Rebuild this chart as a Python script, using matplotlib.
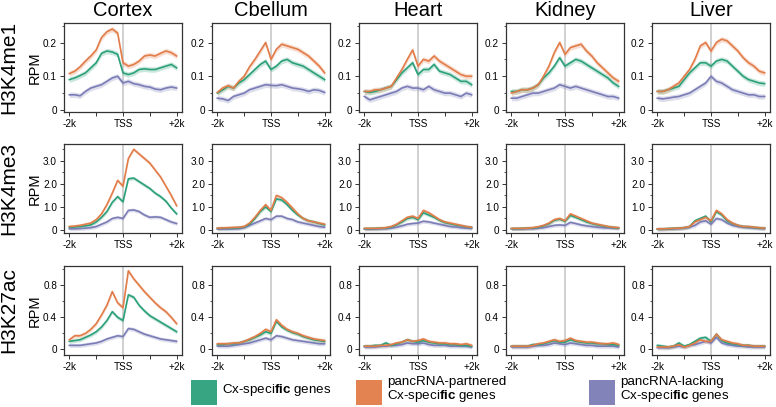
import numpy as np
import matplotlib
matplotlib.use("Agg")
import matplotlib.pyplot as plt
from matplotlib.patches import Rectangle
from matplotlib.ticker import MultipleLocator

plt.rcParams['font.family'] = ['Liberation Sans', 'DejaVu Sans']
plt.rcParams['mathtext.fontset'] = 'custom'
plt.rcParams['mathtext.rm'] = 'Liberation Sans'
plt.rcParams['mathtext.bf'] = 'Liberation Sans:bold'

# positions relative to TSS (bp)
pos = [-2000, -1800, -1600, -1400, -1200, -1000, -800, -600, -400, -200, 0,
       200, 400, 600, 800, 1000, 1200, 1400, 1600, 1800, 2000]

tissues = ['Cortex', 'Cbellum', 'Heart', 'Kidney', 'Liver']
marks = ['H3K4me1', 'H3K4me3', 'H3K27ac']

# --- H3K4me1 (g = Cx-specific, o = pancRNA-partnered, p = pancRNA-lacking)
me1_ctx_g = [.09, .095, .102, .11, .125, .14, .168, .175, .172, .165, .11, .105, .11, .12, .122, .12, .12, .125, .13, .135, .125]
me1_ctx_o = [.108, .115, .128, .145, .16, .178, .215, .232, .24, .228, .14, .13, .135, .145, .16, .163, .16, .168, .175, .17, .16]
me1_ctx_p = [.045, .045, .042, .055, .065, .07, .075, .085, .095, .1, .08, .085, .078, .075, .07, .068, .062, .06, .065, .068, .065]
me1_cbl_g = [.05, .06, .07, .065, .08, .09, .105, .12, .135, .145, .12, .13, .145, .15, .14, .135, .13, .12, .11, .1, .09]
me1_cbl_o = [.052, .065, .072, .065, .085, .1, .128, .15, .175, .2, .15, .18, .195, .19, .185, .18, .17, .16, .145, .13, .11]
me1_cbl_p = [.035, .033, .028, .04, .045, .05, .06, .065, .07, .075, .073, .072, .075, .07, .065, .063, .06, .055, .06, .058, .052]
me1_hrt_g = [.055, .052, .055, .06, .065, .07, .09, .11, .125, .14, .105, .12, .12, .135, .115, .11, .105, .095, .085, .085, .075]
me1_hrt_o = [.055, .055, .06, .06, .065, .07, .095, .12, .15, .178, .13, .15, .145, .16, .145, .135, .125, .115, .105, .1, .1]
me1_hrt_p = [.04, .03, .035, .04, .045, .05, .055, .065, .07, .065, .065, .06, .07, .06, .055, .05, .05, .045, .04, .05, .045]
me1_kid_g = [.055, .055, .06, .06, .065, .075, .095, .11, .13, .155, .13, .14, .15, .145, .135, .125, .115, .105, .095, .08, .07]
me1_kid_o = [.05, .055, .06, .06, .065, .075, .1, .13, .17, .2, .165, .185, .19, .195, .175, .16, .14, .125, .11, .095, .085]
me1_kid_p = [.035, .035, .04, .045, .05, .05, .055, .06, .065, .075, .07, .065, .07, .065, .06, .055, .05, .045, .04, .04, .035]
me1_liv_g = [.055, .055, .06, .065, .07, .09, .11, .125, .14, .14, .13, .145, .15, .145, .13, .115, .1, .09, .085, .08, .078]
me1_liv_o = [.055, .055, .06, .07, .08, .1, .12, .15, .19, .2, .175, .2, .21, .205, .19, .175, .155, .14, .13, .115, .11]
me1_liv_p = [.035, .033, .035, .038, .04, .045, .05, .06, .07, .08, .1, .085, .08, .07, .06, .055, .05, .045, .045, .04, .04]

# --- H3K4me3
me3_ctx_g = [.12, .13, .15, .18, .22, .35, .55, .8, 1.2, 1.45, 1.22, 2.22, 2.25, 2.1, 1.95, 1.8, 1.6, 1.45, 1.25, .95, .7]
me3_ctx_o = [.15, .17, .2, .25, .3, .45, .7, 1.1, 1.6, 2.15, 1.9, 3.1, 3.5, 3.3, 3.1, 2.9, 2.6, 2.3, 1.9, 1.5, 1.05]
me3_ctx_p = [.05, .05, .06, .08, .1, .15, .25, .35, .5, .55, .5, .85, .87, .8, .65, .55, .57, .55, .45, .35, .28]
me3_cbl_g = [.07, .08, .08, .09, .1, .14, .25, .5, .8, 1.0, .8, 1.35, 1.3, 1.1, .85, .65, .5, .4, .35, .28, .22]
me3_cbl_o = [.08, .09, .1, .11, .12, .15, .3, .55, .85, 1.1, .85, 1.5, 1.4, 1.2, .95, .7, .5, .4, .35, .3, .25]
me3_cbl_p = [.04, .04, .04, .05, .06, .1, .2, .3, .4, .5, .45, .6, .6, .5, .45, .35, .3, .25, .2, .15, .12]
me3_hrt_g = [.06, .06, .07, .08, .09, .13, .22, .35, .5, .55, .45, .75, .65, .55, .42, .32, .27, .22, .18, .14, .11]
me3_hrt_o = [.07, .07, .07, .08, .1, .15, .25, .4, .55, .6, .5, .85, .75, .6, .45, .35, .3, .25, .2, .15, .12]
me3_hrt_p = [.04, .04, .04, .05, .06, .08, .12, .18, .25, .28, .3, .38, .35, .3, .25, .2, .15, .13, .1, .08, .07]
me3_kid_g = [.06, .06, .07, .08, .09, .12, .18, .27, .42, .47, .38, .63, .55, .45, .35, .28, .22, .18, .14, .11, .09]
me3_kid_o = [.07, .07, .07, .08, .1, .14, .2, .3, .45, .5, .4, .7, .6, .5, .4, .3, .25, .2, .15, .12, .1]
me3_kid_p = [.05, .05, .05, .06, .06, .08, .1, .15, .2, .22, .2, .33, .28, .22, .18, .15, .12, .1, .09, .08, .07]
me3_liv_g = [.05, .05, .06, .07, .08, .1, .15, .4, .5, .6, .35, .8, .65, .4, .28, .2, .15, .14, .11, .09, .08]
me3_liv_o = [.05, .05, .06, .07, .08, .1, .15, .35, .45, .55, .4, .85, .7, .45, .3, .2, .15, .15, .12, .1, .08]
me3_liv_p = [.03, .03, .04, .05, .06, .08, .12, .2, .35, .4, .25, .5, .45, .3, .2, .15, .12, .1, .09, .07, .06]

# --- H3K27ac
ac_ctx_g = [.1, .11, .12, .15, .18, .22, .28, .36, .47, .4, .36, .68, .65, .55, .48, .42, .38, .34, .3, .26, .22]
ac_ctx_o = [.12, .17, .17, .2, .25, .32, .43, .55, .72, .58, .52, .98, .88, .8, .72, .65, .58, .52, .47, .4, .32]
ac_ctx_p = [.05, .05, .05, .06, .07, .08, .1, .13, .15, .17, .16, .26, .25, .22, .19, .17, .15, .13, .12, .11, .1]
ac_cbl_g = [.06, .06, .07, .07, .08, .1, .12, .15, .18, .22, .2, .35, .28, .24, .21, .19, .16, .14, .12, .11, .1]
ac_cbl_o = [.07, .07, .07, .08, .08, .1, .13, .16, .2, .25, .22, .37, .3, .25, .22, .2, .17, .15, .13, .12, .11]
ac_cbl_p = [.04, .04, .04, .05, .06, .07, .08, .1, .12, .14, .12, .17, .16, .14, .12, .11, .1, .09, .08, .07, .07]
ac_hrt_g = [.04, .04, .05, .05, .08, .05, .07, .09, .12, .1, .09, .11, .09, .08, .07, .07, .06, .06, .05, .05, .04]
ac_hrt_o = [.04, .04, .04, .05, .05, .06, .08, .09, .12, .1, .11, .13, .1, .09, .08, .08, .07, .07, .06, .07, .05]
ac_hrt_p = [.03, .03, .03, .04, .04, .05, .05, .06, .08, .07, .07, .08, .06, .05, .05, .05, .04, .04, .04, .04, .03]
ac_kid_g = [.04, .04, .04, .04, .06, .06, .07, .09, .11, .09, .09, .12, .1, .09, .08, .08, .07, .07, .06, .06, .05]
ac_kid_o = [.04, .04, .04, .04, .05, .07, .08, .1, .12, .1, .11, .14, .11, .1, .09, .09, .08, .07, .07, .08, .06]
ac_kid_p = [.03, .03, .03, .03, .04, .05, .05, .06, .08, .07, .06, .08, .07, .06, .05, .05, .04, .04, .04, .04, .03]
ac_liv_g = [.05, .04, .03, .04, .08, .04, .06, .1, .14, .15, .1, .19, .11, .08, .07, .06, .05, .05, .04, .04, .04]
ac_liv_o = [.03, .03, .03, .04, .06, .03, .05, .08, .12, .1, .1, .19, .12, .1, .08, .07, .05, .05, .04, .04, .04]
ac_liv_p = [.02, .02, .02, .03, .04, .03, .05, .06, .08, .1, .08, .15, .08, .06, .05, .04, .04, .03, .03, .03, .03]

# approximate half-width of the shaded error band per row
band = [0.008, 0.08, 0.025]

rows = [
    [(me1_ctx_g, me1_ctx_o, me1_ctx_p), (me1_cbl_g, me1_cbl_o, me1_cbl_p), (me1_hrt_g, me1_hrt_o, me1_hrt_p),
     (me1_kid_g, me1_kid_o, me1_kid_p), (me1_liv_g, me1_liv_o, me1_liv_p)],
    [(me3_ctx_g, me3_ctx_o, me3_ctx_p), (me3_cbl_g, me3_cbl_o, me3_cbl_p), (me3_hrt_g, me3_hrt_o, me3_hrt_p),
     (me3_kid_g, me3_kid_o, me3_kid_p), (me3_liv_g, me3_liv_o, me3_liv_p)],
    [(ac_ctx_g, ac_ctx_o, ac_ctx_p), (ac_cbl_g, ac_cbl_o, ac_cbl_p), (ac_hrt_g, ac_hrt_o, ac_hrt_p),
     (ac_kid_g, ac_kid_o, ac_kid_p), (ac_liv_g, ac_liv_o, ac_liv_p)],
]

green = '#2ca07a'
orange = '#e27c48'
purple = '#7b7cb6'

W, H = 776, 407
fig = plt.figure(figsize=(W / 100, H / 100), dpi=100)

lefts = [64, 212, 359, 506, 652]
tops = [23, 144, 266]
pw, ph = 118, 89

ylims = [(-0.006, 0.258), (-0.13, 3.73), (-0.07, 1.04)]
ymajor = [[0, 0.1, 0.2], [0, 1, 2, 3], [0, 0.4, 0.8]]
ylabels = [['0', '0.1', '0.2'], ['0', '1.0', '2.0', '3.0'], ['0', '0.4', '0.8']]
yminor = [0.05, 0.5, 0.2]

for r in range(3):
    for c in range(5):
        ax = fig.add_axes([lefts[c] / W, 1 - (tops[r] + ph) / H, pw / W, ph / H])
        g, o, p = rows[r][c]
        ax.axvline(0, color='#c4c4c4', lw=1.1, zorder=1)
        for vals, col in [(p, purple), (g, green), (o, orange)]:
            v = np.array(vals)
            ax.fill_between(pos, v - band[r], v + band[r], color=col, alpha=0.25, lw=0, zorder=2)
            ax.plot(pos, v, color=col, lw=1.2, zorder=3)
        ax.set_xlim(-2200, 2200)
        ax.set_ylim(*ylims[r])
        ax.set_xticks([-2000, -1000, 0, 1000, 2000])
        ax.set_xticklabels(['-2k', '', 'TSS', '', '+2k'])
        ax.set_yticks(ymajor[r])
        ax.set_yticklabels(ylabels[r])
        ax.yaxis.set_minor_locator(MultipleLocator(yminor[r]))
        ax.tick_params(axis='both', which='major', labelsize=7.2, length=3, width=0.7,
                       color='#333333', pad=2)
        ax.tick_params(axis='y', which='minor', length=1.8, width=0.6, color='#333333')
        for s in ax.spines.values():
            s.set_color('#333333')
            s.set_linewidth(0.9)
        if r == 0:
            ax.set_title(tissues[c], fontsize=14.5, pad=5, fontweight='light')
        if c == 0:
            yc = 1 - (tops[r] + ph / 2) / H
            fig.text(35 / W, yc, 'RPM', rotation=90, ha='center', va='center', fontsize=10.5)
            fig.text(9 / W, yc, marks[r], rotation=90,
                     ha='center', va='center', fontsize=15, fontweight='light')

# legend at the bottom
legend_items = [
    (green, 191, 'Cx-speci$\\mathbf{fic}$ genes'),
    (orange, 356, 'pancRNA-partnered\nCx-speci$\\mathbf{fic}$ genes'),
    (purple, 589, 'pancRNA-lacking\nCx-speci$\\mathbf{fic}$ genes'),
]
for col, x0, label in legend_items:
    fig.patches.append(Rectangle((x0 / W, 2 / H), 26 / W, 25 / H, transform=fig.transFigure,
                                 facecolor=col, edgecolor='none', alpha=0.95))
    fig.text((x0 + 31) / W, 1 - 390 / H, label, ha='left', va='center', fontsize=9.6,
             linespacing=1.05)

fig.savefig('out.png', dpi=100)
